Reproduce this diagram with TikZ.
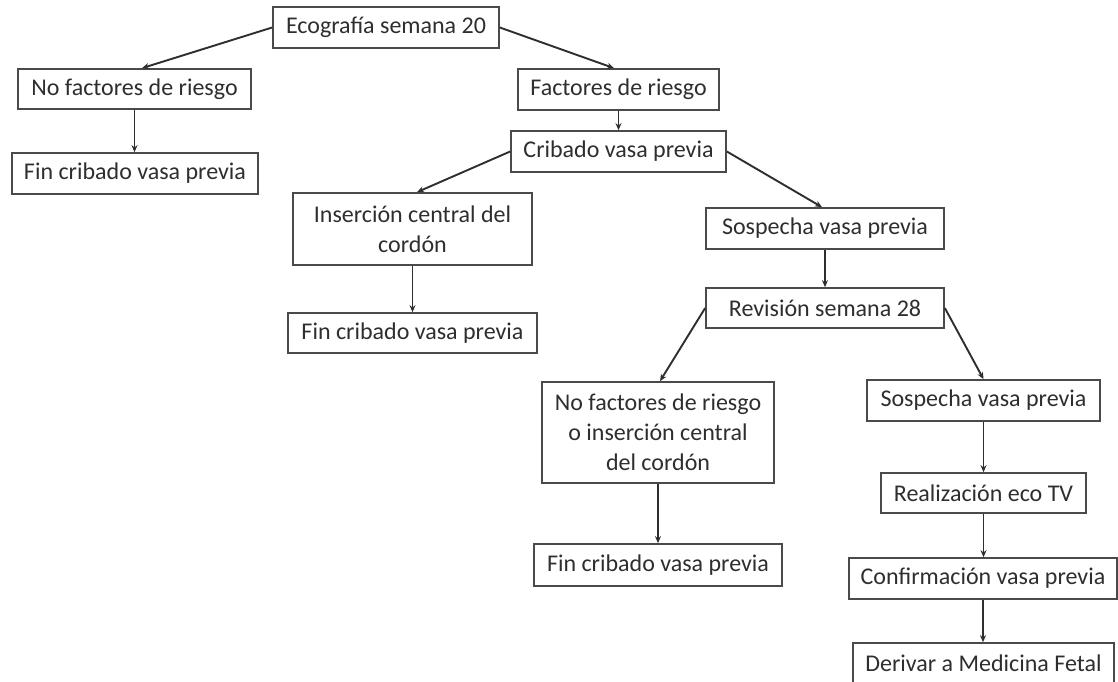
\documentclass[tikz,border=0pt]{standalone}
\usepackage{fontspec}
\setmainfont{Carlito}
\usetikzlibrary{arrows.meta}
\definecolor{ink}{HTML}{2E2E2E}
\definecolor{edge}{HTML}{4A4A4A}
\tikzset{
  box/.style={draw=edge, line width=1.7pt, rectangle, inner sep=0pt, align=center,
    text=ink, font=\fontsize{24}{30}\selectfont, minimum width=#1},
  box/.default=200pt,
  arr/.style={draw=ink, line width=1.9pt, -{Stealth[length=7pt,width=6pt]}}
}
\begin{document}
\begin{tikzpicture}[x=1pt,y=-1pt]
\useasboundingbox (0,0) rectangle (1118,681);
\node[box=226pt, minimum height=41pt] (eco)  at (386,27.5)   {Ecografía semana 20};
\node[box=233pt, minimum height=40pt] (nofr) at (134.5,89)   {No factores de riesgo};
\node[box=246pt, minimum height=41pt] (fin1) at (135,173.5)  {Fin cribado vasa previa};
\node[box=201pt, minimum height=41pt] (fr)   at (618.5,89.5) {Factores de riesgo};
\node[box=215pt, minimum height=41pt] (crib) at (618.5,151.5) {Cribado vasa previa};
\node[box=239pt, minimum height=72pt] (ins)  at (412.5,229)  {Inserción central del\\cordón};
\node[box=249pt, minimum height=40pt] (fin2) at (412.5,333)  {Fin cribado vasa previa};
\node[box=238pt, minimum height=41pt] (sos1) at (825,228.5)  {Sospecha vasa previa};
\node[box=238pt, minimum height=40pt] (rev)  at (825,308)    {Revisión semana 28};
\node[box=232pt, minimum height=101pt] (nfo) at (658,432.5)  {No factores de riesgo\\o inserción central\\del cordón};
\node[box=248pt, minimum height=42pt] (fin3) at (658,565)    {Fin cribado vasa previa};
\node[box=233pt, minimum height=41pt] (sos2) at (983.5,400.5) {Sospecha vasa previa};
\node[box=205pt, minimum height=40pt] (real) at (983.5,493)  {Realización eco TV};
\node[box=268pt, minimum height=41pt] (conf) at (983,578.5)  {Confirmación vasa previa};
\node[box=261pt, minimum height=41pt] (der)  at (983.5,663.5) {Derivar a Medicina Fetal};

\draw[arr] (eco.west) -- ([xshift=7.5pt]nofr.north);
\draw[arr] (eco.east) -- ([xshift=-4.5pt]fr.north);
\draw[arr] (nofr.south) -- (nofr.south |- fin1.north);
\draw[arr] (fr.south) -- (fr.south |- crib.north);
\draw[arr] (crib.west) -- ([xshift=4.5pt]ins.north);
\draw[arr] (crib.east) -- ([xshift=-3pt]sos1.north);
\draw[arr] (ins.south) -- (ins.south |- fin2.north);
\draw[arr] (sos1.south) -- (sos1.south |- rev.north);
\draw[arr] (rev.west) -- ([xshift=2pt]nfo.north);
\draw[arr] (rev.east) -- (sos2.north);
\draw[arr] (nfo.south) -- (nfo.south |- fin3.north);
\draw[arr] (sos2.south) -- (sos2.south |- real.north);
\draw[arr] (real.south) -- (real.south |- conf.north);
\draw[arr] (conf.south) -- (conf.south |- der.north);
\end{tikzpicture}
\end{document}
